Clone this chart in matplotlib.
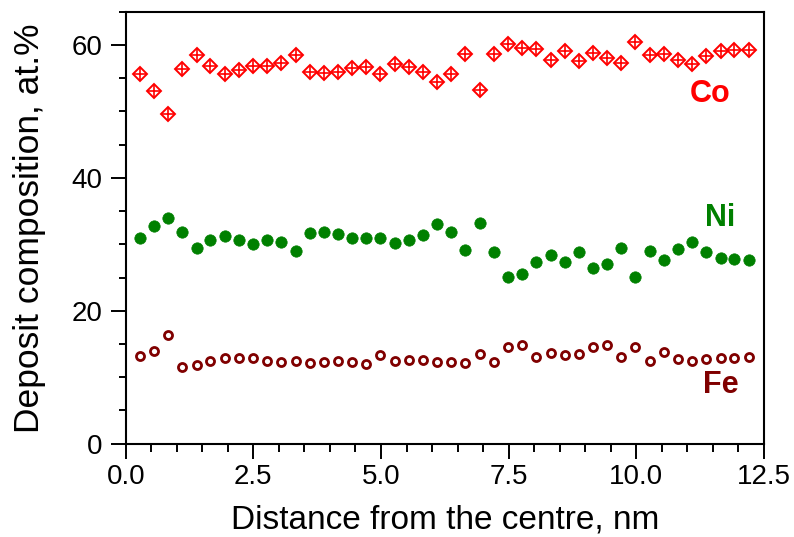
import matplotlib
matplotlib.use("Agg")
import matplotlib.pyplot as plt
from matplotlib.ticker import MultipleLocator, FixedLocator

plt.rcParams['font.family'] = ['Liberation Sans', 'DejaVu Sans']

distance = [0.28, 0.55, 0.83, 1.11, 1.39, 1.66, 1.94, 2.22, 2.50, 2.77,
            3.05, 3.33, 3.61, 3.88, 4.16, 4.44, 4.71, 4.99, 5.27, 5.55,
            5.82, 6.10, 6.38, 6.65, 6.93, 7.21, 7.49, 7.76, 8.04, 8.32,
            8.60, 8.87, 9.15, 9.43, 9.70, 9.98, 10.26, 10.54, 10.81, 11.09,
            11.37, 11.65, 11.92, 12.20]

co = [55.7, 53.1, 49.6, 56.4, 58.5, 56.9, 55.7, 56.2, 56.9, 56.8,
      57.3, 58.5, 56.0, 55.8, 56.0, 56.6, 56.7, 55.6, 57.2, 56.7,
      55.9, 54.4, 55.7, 58.7, 53.2, 58.7, 60.1, 59.6, 59.4, 57.8,
      59.1, 57.6, 58.8, 58.0, 57.3, 60.4, 58.5, 58.7, 57.8, 57.1,
      58.3, 59.1, 59.2, 59.2]

ni = [30.9, 32.8, 34.0, 31.8, 29.4, 30.6, 31.3, 30.6, 30.1, 30.6,
      30.3, 29.0, 31.7, 31.8, 31.5, 31.0, 31.0, 31.0, 30.2, 30.6,
      31.4, 33.1, 31.9, 29.2, 33.2, 28.9, 25.1, 25.5, 27.4, 28.4,
      27.4, 28.9, 26.4, 27.0, 29.4, 25.1, 29.0, 27.6, 29.3, 30.3,
      28.8, 28.0, 27.8, 27.6]

fe = [13.2, 14.0, 16.4, 11.6, 11.9, 12.4, 12.9, 12.9, 12.9, 12.5,
      12.3, 12.4, 12.1, 12.3, 12.4, 12.3, 12.0, 13.4, 12.4, 12.6,
      12.6, 12.3, 12.3, 12.1, 13.5, 12.3, 14.6, 14.8, 13.1, 13.7,
      13.3, 13.5, 14.6, 14.9, 13.1, 14.5, 12.4, 13.8, 12.8, 12.5,
      12.7, 12.9, 12.9, 13.1]

x_ticks = [0.0, 2.5, 5.0, 7.5, 10.0, 12.5]
x_tick_labels = ["0.0", "2.5", "5.0", "7.5", "10.0", "12.5"]
y_ticks = [0, 20, 40, 60]

labels = ["Co", "Ni", "Fe"]
label_pos = [(11.45, 52.6), (11.64, 34.0), (11.66, 8.9)]
colors = ["#FF0000", "#008000", "#800000"]

fig = plt.figure(figsize=(7.94, 5.37), dpi=100)
ax = fig.add_axes([0.1583, 0.1737, 0.8039, 0.8043])

# Co: diamond with cross
ax.plot(distance, co, linestyle='none', marker='D', ms=6.8, mfc='none',
        mec=colors[0], mew=1.4, clip_on=False)
ax.plot(distance, co, linestyle='none', marker='+', ms=9.2,
        mec=colors[0], mew=1.2, clip_on=False)
# Ni: filled circles
ax.plot(distance, ni, linestyle='none', marker='o', ms=8.2, mfc=colors[1],
        mec=colors[1], mew=0.5, clip_on=False)
# Fe: open circles
ax.plot(distance, fe, linestyle='none', marker='o', ms=5.8, mfc='none',
        mec=colors[2], mew=2.0, clip_on=False)

for lab, (lx, ly), c in zip(labels, label_pos, colors):
    ax.text(lx, ly, lab, color=c, fontsize=22, fontweight='bold',
            ha='center', va='center')

ax.set_xlim(0, 12.5)
ax.set_ylim(0, 65)
ax.xaxis.set_major_locator(FixedLocator(x_ticks))
ax.set_xticklabels(x_tick_labels)
ax.xaxis.set_minor_locator(MultipleLocator(0.5))
ax.yaxis.set_major_locator(FixedLocator(y_ticks))
ax.yaxis.set_minor_locator(MultipleLocator(5))

for sp in ax.spines.values():
    sp.set_linewidth(1.5)

ax.tick_params(which='major', direction='out', length=10.8, width=1.4,
               labelsize=20, pad=4)
ax.tick_params(which='minor', direction='out', length=5.4, width=1.4)
ax.tick_params(axis='y', which='major', pad=6)

ax.set_xlabel("Distance from the centre, nm", fontsize=24, labelpad=10.5)
ax.set_ylabel("Deposit composition, at.%", fontsize=25.5, labelpad=18)

fig.savefig("out.png", dpi=100)
